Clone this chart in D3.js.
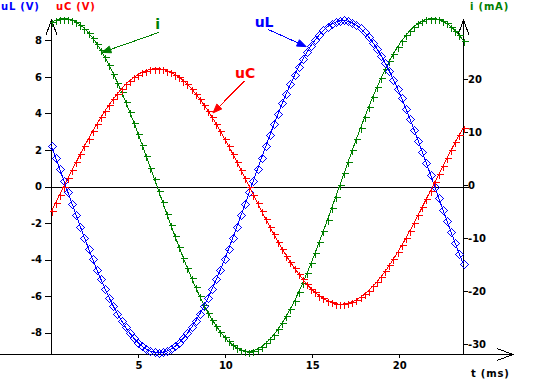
<!DOCTYPE html>
<html>
<head>
<meta charset="utf-8">
<script src="https://cdn.jsdelivr.net/npm/d3@7"></script>
<style>
  body { margin: 0; background: #fff; }
  svg { display: block; }
  text { font-family: "DejaVu Sans", sans-serif; font-weight: bold; }
</style>
</head>
<body>
<svg id="chart" width="537" height="391"></svg>
<script>
// sample clock of the scope trace (ms between two points)
const sampleStep = 0.237;

// coil voltage uL (V)
const uL = [
  2.20, 1.58, 0.95, 0.32, -0.32, -0.95, -1.58, -2.20, -2.81, -3.41,
  -3.99, -4.55, -5.09, -5.60, -6.09, -6.55, -6.97, -7.36, -7.72, -8.03,
  -8.31, -8.55, -8.75, -8.90, -9.01, -9.08, -9.10, -9.08, -9.01, -8.90,
  -8.75, -8.55, -8.31, -8.03, -7.72, -7.36, -6.97, -6.55, -6.09, -5.60,
  -5.09, -4.55, -3.99, -3.41, -2.81, -2.20, -1.58, -0.95, -0.32, 0.32,
  0.95, 1.58, 2.20, 2.81, 3.41, 3.99, 4.55, 5.09, 5.60, 6.09,
  6.55, 6.97, 7.36, 7.72, 8.03, 8.31, 8.55, 8.75, 8.90, 9.01,
  9.08, 9.10, 9.05, 8.96, 8.83, 8.66, 8.44, 8.18, 7.88, 7.54,
  7.17, 6.76, 6.32, 5.85, 5.35, 4.82, 4.27, 3.70, 3.11, 2.51,
  1.89, 1.27, 0.64, 0, -0.64, -1.27, -1.89, -2.51, -3.11, -3.70,
  -4.27
];

// capacitor voltage uC (V), red trace
const uC = [
  -1.34, -0.90, -0.45, 0, 0.45, 0.90, 1.34, 1.78, 2.21, 2.62,
  3.03, 3.42, 3.79, 4.15, 4.48, 4.79, 5.08, 5.35, 5.59, 5.80,
  5.98, 6.13, 6.26, 6.35, 6.42, 6.45, 6.45, 6.42, 6.35, 6.26,
  6.13, 5.98, 5.80, 5.59, 5.35, 5.08, 4.79, 4.48, 4.15, 3.79,
  3.42, 3.03, 2.62, 2.21, 1.78, 1.34, 0.90, 0.45, 0, -0.45,
  -0.90, -1.34, -1.78, -2.21, -2.62, -3.03, -3.42, -3.79, -4.15, -4.48,
  -4.79, -5.08, -5.35, -5.59, -5.80, -5.98, -6.13, -6.26, -6.35, -6.42,
  -6.45, -6.43, -6.39, -6.31, -6.20, -6.06, -5.89, -5.70, -5.47, -5.22,
  -4.94, -4.64, -4.32, -3.97, -3.61, -3.23, -2.83, -2.42, -1.99, -1.56,
  -1.12, -0.67, -0.23, 0.23, 0.67, 1.12, 1.56, 1.99, 2.42, 2.83,
  3.23
];

// current i (mA), green trace, right axis
const iMA = [
  30.71, 31.10, 31.33, 31.40, 31.33, 31.10, 30.71, 30.19, 29.51, 28.68,
  27.72, 26.63, 25.40, 24.05, 22.59, 21.01, 19.33, 17.56, 15.70, 13.77,
  11.76, 9.70, 7.60, 5.45, 3.28, 1.10, -1.10, -3.28, -5.45, -7.60,
  -9.70, -11.76, -13.77, -15.70, -17.56, -19.33, -21.01, -22.59, -24.05, -25.40,
  -26.63, -27.72, -28.68, -29.51, -30.19, -30.71, -31.10, -31.33, -31.40, -31.23,
  -30.92, -30.47, -29.86, -29.11, -28.22, -27.19, -26.03, -24.74, -23.34, -21.81,
  -20.18, -18.46, -16.64, -14.74, -12.77, -10.74, -8.66, -6.53, -4.37, -2.19,
  0, 2.19, 4.37, 6.53, 8.66, 10.74, 12.77, 14.74, 16.64, 18.46,
  20.18, 21.81, 23.34, 24.74, 26.03, 27.19, 28.22, 29.11, 29.86, 30.47,
  30.92, 31.23, 31.38, 31.38, 31.23, 30.92, 30.47, 29.86, 29.11, 28.22,
  27.19
];

const uTicks = [-8, -6, -4, -2, 0, 2, 4, 6, 8];
const iTicks = [-30, -20, -10, 0, 10, 20];
const tTicks = [5, 10, 15, 20];

const BLUE = "#0000ff", RED = "#ff0000", GREEN = "#008000";

const svg = d3.select("#chart");
const tEnd = (uL.length - 1) * sampleStep;

const x = d3.scaleLinear().domain([0, tEnd]).range([51.5, 463.5]);
const yL = d3.scaleLinear().domain([-9.2, 9.2]).range([354.5, 18.5]);
const yR = d3.scaleLinear().domain([-31.4, 31.4]).range([351.5, 18.5]);

const times = uL.map((d, k) => k * sampleStep);

// ---- axes frame
const frame = svg.append("g")
  .attr("stroke", "#000")
  .attr("fill", "none")
  .attr("shape-rendering", "crispEdges");

const xAxisY = 354.5;
frame.append("line").attr("x1", 0).attr("x2", 513).attr("y1", xAxisY).attr("y2", xAxisY);
frame.append("path").attr("d", `M497,${xAxisY - 6}L513,${xAxisY}L497,${xAxisY + 6}`);

[x(0), x(tEnd)].forEach(px => {
  frame.append("line").attr("x1", px).attr("x2", px).attr("y1", 20).attr("y2", xAxisY);
  frame.append("path").attr("d", `M${px - 5.5},35L${px},20L${px + 5.5},35`);
});

// zero line
frame.append("line")
  .attr("x1", x(0) - 6).attr("x2", x(tEnd) + 5)
  .attr("y1", Math.round(yL(0)) + 0.5).attr("y2", Math.round(yL(0)) + 0.5);

function styleAxis(g) {
  g.select(".domain").remove();
  g.attr("font-family", null).attr("font-size", 10)
    .attr("shape-rendering", "crispEdges");
  g.selectAll("text").attr("fill", "#000");
}

svg.append("g")
  .attr("transform", `translate(${x(0) - 0.5},0)`)
  .call(d3.axisLeft(yL).tickValues(uTicks).tickSize(6).tickPadding(3).tickFormat(d => String(d)))
  .call(styleAxis);

svg.append("g")
  .attr("transform", `translate(${x(tEnd) - 0.5},0)`)
  .call(d3.axisRight(yR).tickValues(iTicks).tickSize(5).tickPadding(0).tickFormat(d => String(d)))
  .call(styleAxis);

svg.append("g")
  .attr("transform", `translate(0,${xAxisY - 0.5})`)
  .call(d3.axisBottom(x).tickValues(tTicks).tickSize(4).tickPadding(4))
  .call(styleAxis);

// ---- traces
function trace(values, yScale, color, marker) {
  const pts = values.map((v, k) => [x(times[k]), yScale(v)]);
  const g = svg.append("g").attr("shape-rendering", "crispEdges");
  g.append("path")
    .attr("d", d3.line()(pts))
    .attr("fill", "none")
    .attr("stroke", color)
    .attr("stroke-width", 1);
  g.selectAll(".m")
    .data(pts)
    .enter()
    .append("path")
    .attr("class", "m")
    .attr("fill", "none")
    .attr("stroke", color)
    .attr("d", d => {
      const cx = Math.round(d[0]) + 0.5, cy = Math.round(d[1]) + 0.5;
      if (marker === "plus") return `M${cx - 3},${cy}H${cx + 4}M${cx},${cy - 3}V${cy + 4}`;
      return `M${cx},${cy - 4}L${cx + 4},${cy}L${cx},${cy + 4}L${cx - 4},${cy}Z`;
    });
}

trace(iMA, yR, GREEN, "plus");
trace(uL, yL, BLUE, "diamond");
trace(uC, yL, RED, "plus");

// ---- axis titles
const titles = svg.append("g").attr("font-size", 10).attr("letter-spacing", 0.8);
titles.append("text").attr("x", 1).attr("y", 9.5).attr("fill", BLUE).text("uL (V)");
titles.append("text").attr("x", 56).attr("y", 9.5).attr("fill", RED).text("uC (V)");
titles.append("text").attr("x", 470).attr("y", 9.5).attr("fill", GREEN).text("i (mA)");
titles.append("text").attr("x", 471).attr("y", 377).attr("fill", "#000").text("t (ms)");

// ---- labelled arrows
function note(label, color, yScale, textAt, tail, tip) {
  const g = svg.append("g");
  g.append("text")
    .attr("x", x(textAt[0])).attr("y", yScale(textAt[1]))
    .attr("text-anchor", "middle")
    .attr("font-size", 14)
    .attr("fill", color)
    .text(label);
  const x1 = x(tail[0]), y1 = yScale(tail[1]);
  const x2 = x(tip[0]), y2 = yScale(tip[1]);
  const a = Math.atan2(y2 - y1, x2 - x1);
  const len = 9, hw = 3.5;
  const bx = x2 - len * Math.cos(a), by = y2 - len * Math.sin(a);
  g.append("line")
    .attr("x1", x1).attr("y1", y1).attr("x2", bx).attr("y2", by)
    .attr("stroke", color).attr("shape-rendering", "crispEdges");
  g.append("path")
    .attr("d", `M${x2},${y2}L${bx + hw * Math.sin(a)},${by - hw * Math.cos(a)}L${bx - hw * Math.sin(a)},${by + hw * Math.cos(a)}Z`)
    .attr("fill", color).attr("stroke", color);
}

note("i", GREEN, yR, [6.1, 29.4], [6.2, 28.8], [2.9, 25.0]);
note("uL", BLUE, yL, [12.23, 8.73], [12.44, 8.61], [14.65, 7.66]);
note("uC", RED, yL, [11.14, 5.93], [11.1, 5.78], [9.29, 4.03]);
</script>
</body>
</html>
